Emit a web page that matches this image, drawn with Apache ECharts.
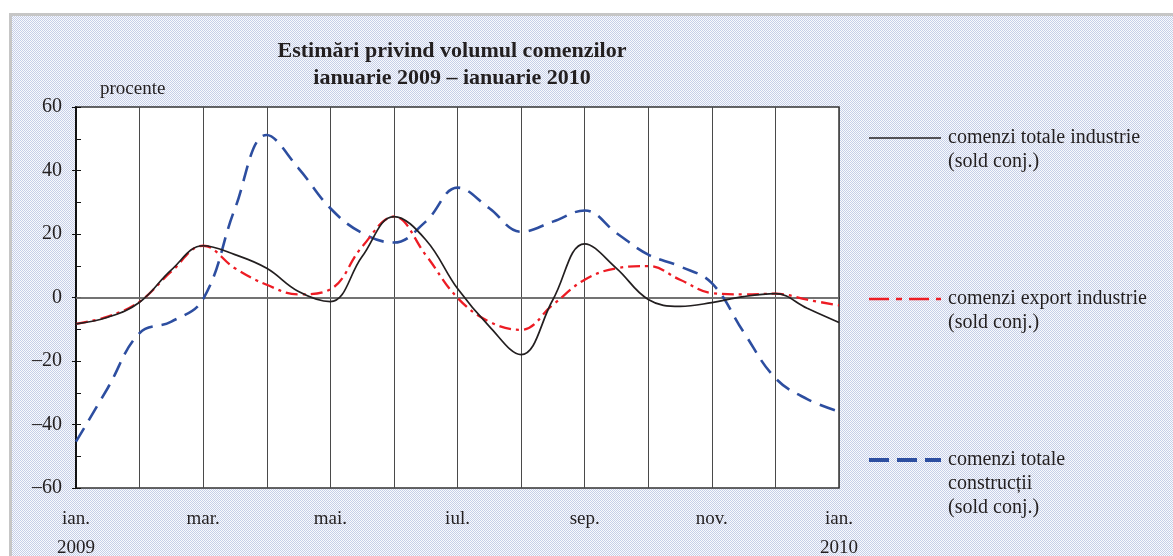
<!DOCTYPE html>
<html>
<head>
<meta charset="utf-8">
<script src="https://cdn.jsdelivr.net/npm/echarts@6/dist/echarts.min.js"></script>
<style>
  html, body { margin: 0; padding: 0; background: #fff; }
  #frame { position: absolute; left: 9px; top: 13px; width: 1200px; height: 600px;
           border-top: 3px solid #c6c6c6; border-left: 3px solid #c6c6c6; }
  #chart { position: absolute; left: 0; top: 0; width: 1173px; height: 556px; }
</style>
</head>
<body>
<div id="frame"></div>
<div id="chart"></div>
<script>
// Half-month steps from ian. 2009 to ian. 2010
const categories = ['ian. 2009','','feb.','','mar.','','apr.','','mai.','','iun.','','iul.','','aug.','','sep.','','oct.','','nov.','','dec.','','ian. 2010'];
const tickLabels = {0: 'ian.\n2009', 4: 'mar.', 8: 'mai.', 12: 'iul.', 16: 'sep.', 20: 'nov.', 24: 'ian.\n2010'};
const yTicks = [-60, -40, -20, 0, 20, 40, 60];

const seriesNames = [
  'comenzi totale industrie (sold conj.)',
  'comenzi export industrie (sold conj.)',
  'comenzi totale construcții (sold conj.)'
];
const totalIndustrie = [-8.3, -6.2, -1.5, 8.7, 16.3, 13.5, 9.2, 1.9, -1.3, 12.9, 25.5, 18.2, 2.8, -9.1, -18.0, -0.7, 16.9, 9.2, -0.6, -2.8, -1.6, 0.3, 1.2, -3.4, -7.9];
const exportIndustrie = [-8.3, -6.0, -1.3, 8.2, 16.3, 9.2, 4.0, 1.0, 2.6, 16.0, 25.5, 13.4, -0.1, -7.6, -10.2, -2.3, 5.6, 9.2, 9.9, 5.6, 1.4, 1.0, 1.2, -0.7, -2.5];
const totalConstructii = [-45.4, -28.5, -11.2, -7.6, -0.5, 28.0, 51.2, 40.7, 28.1, 20.3, 17.3, 23.9, 34.6, 28.1, 20.7, 23.9, 27.4, 20.3, 13.5, 9.8, 4.5, -10.9, -25.4, -32.0, -35.9];

// dotted background pattern
(function () {
  const c = document.createElement('canvas');
  c.width = 2; c.height = 2;
  const g = c.getContext('2d');
  g.fillStyle = '#f9fafd'; g.fillRect(0, 0, 2, 2);
  g.fillStyle = '#c6cfe8'; g.fillRect(0, 0, 1, 1); g.fillRect(1, 1, 1, 1);
  document.getElementById('frame').style.backgroundImage = 'url(' + c.toDataURL() + ')';
})();

const serif = 'Liberation Serif, Times New Roman, serif';
const ink = '#231f20';
const colors = ['#231f20', '#ed1c24', '#2d4ea0'];

const chart = echarts.init(document.getElementById('chart'), null, { renderer: 'canvas' });

const legendItems = [
  { y: 138, lines: ['comenzi totale industrie', '(sold conj.)'], color: colors[0], width: 1.6, dash: null },
  { y: 299, lines: ['comenzi export industrie', '(sold conj.)'], color: colors[1], width: 2.4, dash: [20, 7, 6, 7] },
  { y: 460, lines: ['comenzi totale', 'construcții', '(sold conj.)'], color: colors[2], width: 4, dash: [20, 8] }
];
const graphics = [];
legendItems.forEach(it => {
  graphics.push({ type: 'line', shape: { x1: 869, y1: it.y, x2: 941, y2: it.y },
    style: { stroke: it.color, lineWidth: it.width, lineDash: it.dash }, silent: true });
  graphics.push({ type: 'text', x: 948, y: it.y - 12,
    style: { text: it.lines.join('\n'), font: '20px ' + serif, fill: ink, lineHeight: 24, verticalAlign: 'top', align: 'left' }, silent: true });
});

chart.setOption({
  backgroundColor: 'transparent',
  animation: false,
  title: {
    text: 'Estimări privind volumul comenzilor\nianuarie 2009 – ianuarie 2010',
    left: 447, top: 33, textAlign: 'center',
    textStyle: { fontFamily: serif, fontWeight: 'bold', fontSize: 22, lineHeight: 27, color: ink }
  },
  grid: { left: 76, top: 107, right: 334, bottom: 68, outerBoundsMode: 'none', containLabel: false,
    show: true, backgroundColor: '#ffffff', borderColor: '#333', borderWidth: 1.5 },
  xAxis: {
    type: 'category', data: categories, boundaryGap: false,
    axisLine: { lineStyle: { color: '#111', width: 1.5 } },
    axisTick: { show: false },
    axisLabel: {
      interval: 0, margin: 17,
      formatter: (v, i) => tickLabels[i] !== undefined ? tickLabels[i] : '',
      fontFamily: serif, fontSize: 19, lineHeight: 29, color: ink
    },
    splitLine: { show: true, interval: i => i % 2 === 0, lineStyle: { color: '#4a4a4a', width: 1 } }
  },
  yAxis: [{
    type: 'value', min: -60, max: 60, interval: 20,
    name: 'procente', nameLocation: 'end', nameGap: 8,
    nameTextStyle: { fontFamily: serif, fontSize: 19, color: ink, align: 'left', verticalAlign: 'bottom', padding: [0, 0, 0, 24] },
    axisLine: { show: true, onZero: false, lineStyle: { color: '#111', width: 2 } },
    axisTick: { show: true, length: 4, lineStyle: { color: '#111' } },
    axisLabel: { margin: 14, fontFamily: serif, fontSize: 20, color: ink,
      formatter: v => yTicks.includes(v) ? String(v).replace('-', '–') : '' },
    splitLine: { show: false }
  }, {
    type: 'value', min: -60, max: 60, interval: 10, position: 'left', offset: 0,
    axisLine: { show: false },
    axisTick: { show: true, inside: true, length: 5, lineStyle: { color: '#111' } },
    axisLabel: { show: false },
    splitLine: { show: false }
  }],
  series: [
    { name: seriesNames[0], type: 'line', data: totalIndustrie, smooth: 0.4, symbol: 'none', z: 4,
      lineStyle: { color: colors[0], width: 1.7 },
      markLine: { silent: true, symbol: 'none', label: { show: false }, data: [{ yAxis: 0 }],
        lineStyle: { color: '#808080', width: 1.5, type: 'solid' }, z: 1 } },
    { name: seriesNames[1], type: 'line', data: exportIndustrie, smooth: 0.4, symbol: 'none', z: 3,
      lineStyle: { color: colors[1], width: 2.3, type: [12, 5, 3, 5] } },
    { name: seriesNames[2], type: 'line', data: totalConstructii, smooth: 0.4, symbol: 'none', z: 2,
      lineStyle: { color: colors[2], width: 2.6, type: [16, 9] } }
  ],
  graphic: graphics
});
</script>
</body>
</html>
